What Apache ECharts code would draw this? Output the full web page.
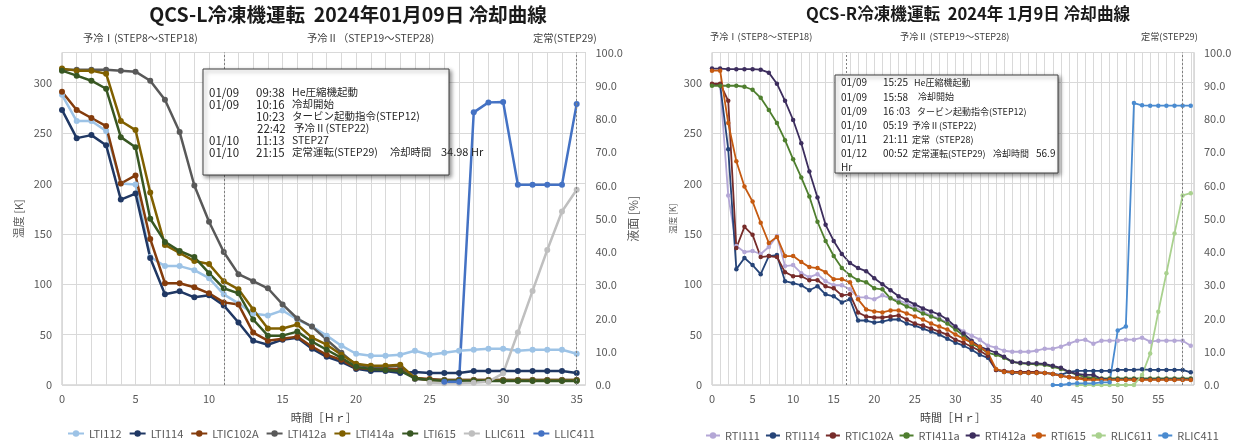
<!DOCTYPE html>
<html><head><meta charset="utf-8">
<script src="https://cdn.jsdelivr.net/npm/echarts@6/dist/echarts.min.js"></script>
<style>html,body{margin:0;padding:0;background:#fff}#c{width:1237px;height:441px}</style>
</head><body><div id="c"></div>
<script>
// ---------- Left chart (QCS-L) ----------
const hoursL = Array.from({length: 36}, (_, i) => i);
const LTI112   = [288,262,262,252,200,199,127,118,118,114,106,90,81,71,69,74,65,58,49,39,31,29,29,30,34,30,32,34,35,36,36,34,35,35,35,31];
const LTI114   = [273,245,248,238,184,190,126,90,93,87,89,79,62,44,40,45,47,36,28,23,16,14,14,12,13,12,12,12,14,14,14,14,14,14,14,12];
const LTIC102A = [291,273,265,257,200,208,145,101,101,97,91,82,80,52,44,46,48,38,30,25,17,16,16,16,7,6,5,5,5,5,5,5,5,5,5,5];
const LTI412a  = [313,313,313,313,312,311,302,283,251,198,162,132,110,103,96,80,66,58,45,32,20,18,18,19,6,5,5,5,5,5,5,5,5,5,5,5];
const LTI414a  = [314,312,312,309,262,253,191,139,131,123,120,103,95,75,56,56,60,47,40,30,21,19,19,20,7,5,4.5,4.5,4.5,4.5,4.5,4.5,4.5,4.5,4.5,4.5];
const LTI615   = [312,307,302,294,246,236,165,142,133,127,111,96,91,65,49,49,53,43,35,27,18,16,15,14,6.6,5,4,4,4,4,4,4,4,4,4,4];
const LLIC611  = [null,null,null,null,null,null,null,null,null,null,null,null,null,null,null,null,null,null,null,null,null,null,null,null,null,0.7,0.5,0.5,0.7,1,3.5,15.8,28.3,40.6,52.2,58.7];
const LLIC411  = [null,null,null,null,null,null,null,null,null,null,null,null,null,null,null,null,null,null,null,null,null,null,null,null,null,null,1,1,82,85,85.1,60.2,60.2,60.2,60.2,84.5];
const namesL = ['LTI112','LTI114','LTIC102A','LTI412a','LTI414a','LTI615','LLIC611','LLIC411'];
const colorsL = ['#9dc3e6','#203864','#843c0c','#595959','#806000','#385723','#bfbfbf','#4472c4'];

// ---------- Right chart (QCS-R) ----------
const hoursR = Array.from({length: 60}, (_, i) => i);
const RTI111   = [298,298,188,138,132,133,130,137,148,118,119,111,107,110,103,99,99,95,87,87,85,89,86,84,81,77,73,69,66,62,58,53,49,45,39,37,34,33,33,33,34,36,36,38,41,44,45,41,44,44,44,45,45,47,43,44,44,44,44,39];
const RTI114   = [298,298,234,115,126,119,110,128,129,103,101,99,94,98,90,88,82,85,64,64,62,63,65,65,61,59,56,53,50,46,42,39,35,30,27,15,13,12,12,12,12,12,11,10,13,14,14,14,14,14,15,15,15,15.6,15,15,15,15,15,12.6];
const RTIC102A = [299,299,282,136,157,149,127,128,127,112,108,108,104,104,98,96,89,90,72,68,67,67,68,69,65,61,59,56,53,50,45,42,38,34,29,15,14,13,13,13,13,12,11,9,8,7,6.5,6,6,6,6,6,6,6,6,6,6,6,6,6];
const RTI411a  = [297,297,297,297,296,293,285,273,260,243,224,206,187,162,143,128,116,109,104,102,96,95,86,82,78,75,71,68,65,61,55,49,41,37,32,30,27,23,21.5,21,20.5,20,18,16,13,10,8,7,6.5,6.5,6.5,6.5,6.5,6.5,6.5,6.5,6.5,6.5,6.5,6.5];
const RTI412a  = [314,314,313.5,313.5,313.5,313.5,313,310,299,282,263,240,212,186,159,143,130,121,116,113,106,100,94,88,84,80,76,73,70,65,58,51,44,38,35,32,28,23,22,21.5,21.5,21,19,17,13,11,10,10,6,5.5,5.5,5.5,5.5,5.5,5.5,5.5,5.5,5.5,5.5,5.5];
const RTI615   = [312,312,260,222,197,182,161,141,147,128,128,122,117,116,112,105,105,102,85,75,73,72,74,74,71,68,65,61,58,55,50,46,42,38,32,16,13,12.6,12,12,12,12,11,9,7.6,6.6,5,5,5,5,5,5,5,5,5,5,5,5,5,5];
const RLIC611  = [null,null,null,null,null,null,null,null,null,null,null,null,null,null,null,null,null,null,null,null,null,null,null,null,null,null,null,null,null,null,null,null,null,null,null,null,null,null,null,null,null,null,null,null,null,0,0,0,0,0,0,0,0,3,9.5,22,33.6,45.6,57,57.7];
const RLIC411  = [null,null,null,null,null,null,null,null,null,null,null,null,null,null,null,null,null,null,null,null,null,null,null,null,null,null,null,null,null,null,null,null,null,null,null,null,null,null,null,null,null,null,0,0,0.3,0.5,0.5,0.5,0.8,0.8,16.4,17.6,84.8,84.1,84,84,84,84,84,84];
const namesR = ['RTI111','RTI114','RTIC102A','RTI411a','RTI412a','RTI615','RLIC611','RLIC411'];
const colorsR = ['#b4a7d6','#264478','#772c2a','#4f7f2f','#3d2e5e','#c55a11','#a9d18e','#4a8bd0'];

const valsL = [LTI112,LTI114,LTIC102A,LTI412a,LTI414a,LTI615,LLIC611,LLIC411];
const pctL = [false,false,false,false,false,false,true,true];
const valsR = [RTI111,RTI114,RTIC102A,RTI411a,RTI412a,RTI615,RLIC611,RLIC411];
const pctR = [false,false,false,false,false,false,true,true];

const FONT = '"Noto Sans CJK JP", "Noto Sans", sans-serif';
const GRID = '#d9d9d9';
const LBL = '#595959';

function mk(name, hours, vals, xi, yi, color, lw, ss) {
  return {
    name, type: 'line', xAxisIndex: xi, yAxisIndex: yi,
    data: hours.map((h, i) => [h, vals[i]]).filter(p => p[1] !== null),
    symbol: 'circle', symbolSize: ss, showSymbol: true,
    lineStyle: {color, width: lw}, itemStyle: {color},
    emphasis: {disabled: true}, animation: false
  };
}
const series = [];
valsL.forEach((v, i) => series.push(mk(namesL[i], hoursL, v, 0, pctL[i] ? 1 : 0, colorsL[i], 2.5, 6)));
valsR.forEach((v, i) => series.push(mk(namesR[i], hoursR, v, 1, pctR[i] ? 3 : 2, colorsR[i], 1.8, 4.5)));
const ml = (xs) => ({silent: true, symbol: 'none', label: {show: false},
  lineStyle: {type: [2, 2], color: '#7f7f7f', width: 1}, data: xs.map(x => ({xAxis: x}))});
series[0].markLine = ml([11, 35]);
series[8].markLine = ml([16.5, 58]);

function xAx(gi, max) {
  return {type: 'value', gridIndex: gi, min: 0, max, interval: 1,
    axisLine: {show: false}, axisTick: {show: false},
    splitLine: {show: true, lineStyle: {color: GRID, width: 1}},
    axisLabel: {color: LBL, fontSize: 11, fontFamily: FONT, margin: 8,
      formatter: v => (Math.abs(v % 5) < 1e-9 ? String(v) : '')},
    name: '時間［Ｈｒ］', nameLocation: 'middle', nameGap: 27,
    nameTextStyle: {color: '#404040', fontSize: 11, fontFamily: FONT}};
}
function yK(gi, name, nameGap, nameSize) {
  return {type: 'value', gridIndex: gi, min: 0, max: 330, interval: 50, position: 'left',
    axisLine: {show: false}, axisTick: {show: false},
    splitLine: {show: true, lineStyle: {color: GRID}},
    axisLabel: {color: LBL, fontSize: 11, fontFamily: FONT, margin: 10, showMaxLabel: false},
    name, nameLocation: 'middle', nameGap, nameTextStyle: {color: LBL, fontSize: nameSize, fontFamily: FONT}};
}
function yP(gi, name) {
  return {type: 'value', gridIndex: gi, min: 0, max: 100, interval: 10, position: 'right',
    axisLine: {show: false}, axisTick: {show: false}, splitLine: {show: false},
    axisLabel: {color: LBL, fontSize: 11, fontFamily: FONT, margin: 10, formatter: v => v.toFixed(1)},
    name, nameLocation: 'middle', nameGap: 42, nameRotate: 90,
    nameTextStyle: {color: LBL, fontSize: 12, fontFamily: FONT}};
}

function txt(x, y, s, size, opts) {
  return Object.assign({type: 'text', x, y, silent: true,
    style: Object.assign({text: s, fill: '#262626', font: `${size}px ${FONT}`, textVerticalAlign: 'middle'}, opts || {})});
}
const Z = (g) => Object.assign(g, {z: 11});
const graphics = [];
// Titles
graphics.push(txt(348, 15, 'QCS-L冷凍機運転  2024年01月09日 冷却曲線', 19.5, {textAlign: 'center', font: `bold 19.5px ${FONT}`, fill: '#1a1a1a'}));
graphics.push(txt(968, 14, 'QCS-R冷凍機運転  2024年 1月9日 冷却曲線', 16.6, {textAlign: 'center', font: `bold 16.6px ${FONT}`, fill: '#1a1a1a'}));
// Step labels
[[83,'予冷Ⅰ(STEP8～STEP18)'],[307,'予冷Ⅱ（STEP19～STEP28)'],[533,'定常(STEP29)']]
  .forEach(([x, s]) => graphics.push(txt(x, 38, s, 10.3, {fill: '#404040'})));
[[710,'予冷Ⅰ(STEP8～STEP18)'],[900,'予冷Ⅱ (STEP19～STEP28)'],[1141,'定常(STEP29)']]
  .forEach(([x, s]) => graphics.push(txt(x, 37, s, 9.2, {fill: '#404040'})));
// Left annotation box
graphics.push({type: 'rect', shape: {x: 203, y: 69, width: 246, height: 106}, silent: true,
  style: {fill: '#fff', stroke: '#404040', lineWidth: 1, shadowBlur: 4, shadowOffsetX: 2, shadowOffsetY: 2, shadowColor: 'rgba(0,0,0,0.45)'}, z: 10});
const boxL = [
  ['01/09','09:38','He圧縮機起動'],
  ['01/09','10:16','冷却開始'],
  ['','10:23','タービン起動指令(STEP12)'],
  ['','22:42','予冷Ⅱ(STEP22)'],
  ['01/10','11:13','STEP27'],
  ['01/10','21:15','定常運転(STEP29)']
];
boxL.forEach((r, i) => {
  const y = 92.3 + i * 12;
  if (r[0]) graphics.push(Z(txt(209, y, r[0], 11.5)));
  graphics.push(Z(txt(i === 3 ? 257 : 256, y, r[1], 11.5)));
  graphics.push(Z(txt(i === 3 ? 294 : 292, y, r[2], 10.5)));
});
graphics.push(Z(txt(390, 152.3, '冷却時間', 10.3)));
graphics.push(Z(txt(441, 152.3, '34.98 Hr', 11)));
// Right annotation box
graphics.push({type: 'rect', shape: {x: 835, y: 75, width: 223, height: 98}, silent: true,
  style: {fill: '#fff', stroke: '#404040', lineWidth: 1, shadowBlur: 4, shadowOffsetX: 2, shadowOffsetY: 2, shadowColor: 'rgba(0,0,0,0.45)'}, z: 10});
const boxR = [
  ['01/09','15:25','He圧縮機起動', 914],
  ['01/09','15:58','冷却開始', 918],
  ['01/09','16 :03','タービン起動指令(STEP12)', 917],
  ['01/10','05:19','予冷Ⅱ(STEP22)', 912],
  ['01/11','21:11','定常（STEP28)', 912],
  ['01/12','00:52','定常運転(STEP29)', 912]
];
boxR.forEach((r, i) => {
  const y = 82.7 + i * 14.2;
  graphics.push(Z(txt(841, y, r[0], 10)));
  graphics.push(Z(txt(883, y, r[1], 10)));
  graphics.push(Z(txt(r[3], y, r[2], 9)));
});
graphics.push(Z(txt(993, 153.7, '冷却時間', 9)));
graphics.push(Z(txt(1036, 153.7, '56.9', 10)));
graphics.push(Z(txt(841, 167.7, 'Hr', 10)));

const chart = echarts.init(document.getElementById('c'), null, {renderer: 'canvas'});
chart.setOption({
  animation: false,
  backgroundColor: '#fff',
  grid: [
    {left: 62, top: 52.5, width: 523.5, height: 332.5, show: true, borderColor: '#bfbfbf', borderWidth: 1, backgroundColor: 'transparent'},
    {left: 712, top: 52.5, width: 482, height: 332.5, show: true, borderColor: '#bfbfbf', borderWidth: 1, backgroundColor: 'transparent'}
  ],
  xAxis: [xAx(0, 35.6), xAx(1, 59.4)],
  yAxis: [yK(0, '温度 [K]', 38, 11), yP(0, '液面 [%]'), yK(1, '温度 [K]', 35, 8.5), yP(1, '')],
  legend: [
    {data: namesL, left: 62, top: 423, width: 600, itemWidth: 16, itemHeight: 8, itemGap: 7,
     textStyle: {color: LBL, fontSize: 11, fontFamily: FONT}},
    {data: namesR, left: 700, top: 425, width: 560, itemWidth: 14, itemHeight: 8, itemGap: 5,
     textStyle: {color: LBL, fontSize: 11, fontFamily: FONT}}
  ],
  graphic: graphics,
  series
});
</script></body></html>
